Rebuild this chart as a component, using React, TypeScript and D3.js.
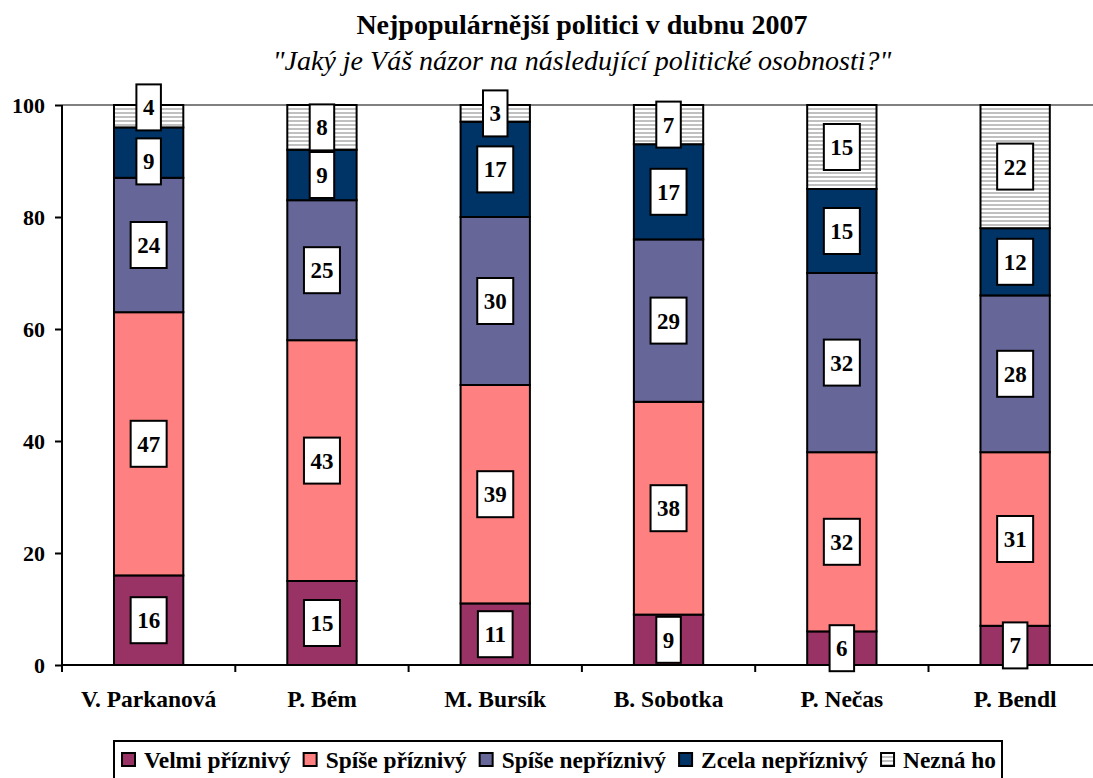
import React, { useEffect, useRef } from "react";
import * as d3 from "d3";

const categories = ["V. Parkanová", "P. Bém", "M. Bursík", "B. Sobotka", "P. Nečas", "P. Bendl"];
const seriesNames = ["Velmi příznivý", "Spíše příznivý", "Spíše nepříznivý", "Zcela nepříznivý", "Nezná ho"];
const velmiPriznivy = [16, 15, 11, 9, 6, 7];
const spisePriznivy = [47, 43, 39, 38, 32, 31];
const spiseNepriznivy = [24, 25, 30, 29, 32, 28];
const zcelaNepriznivy = [9, 9, 17, 17, 15, 12];
const neznaHo = [4, 8, 3, 7, 15, 22];
const yTicks = [0, 20, 40, 60, 80, 100];

const colors = ["#993366", "#FF8080", "#666699", "#003366", "url(#stripes)"];
const FONT = "'Times New Roman', 'Liberation Serif', serif";

// set font as separate attributes
const font = (sel: any, size: number, weight = "bold", style = "normal") =>
  sel
    .attr("font-family", FONT)
    .attr("font-size", size)
    .attr("font-weight", weight)
    .attr("font-style", style)
    .attr("fill", "black");

const App = () => {
  const ref = useRef<SVGSVGElement>(null);

  useEffect(() => {
    const width = 1093;
    const height = 778;
    const svg = d3.select(ref.current).attr("width", width).attr("height", height);
    svg.selectAll("*").remove();

    // stripes for "Nezná ho"
    const pat = svg
      .append("defs")
      .append("pattern")
      .attr("id", "stripes")
      .attr("patternUnits", "userSpaceOnUse")
      .attr("width", 8)
      .attr("height", 4);
    pat.append("rect").attr("width", 8).attr("height", 4).attr("fill", "white");
    pat.append("rect").attr("width", 8).attr("height", 2).attr("fill", "#c0c0c0");

    const x0 = 62;
    const x = d3
      .scaleBand()
      .domain(categories)
      .range([x0, x0 + 6 * 173.3])
      .paddingInner(0.6)
      .paddingOuter(0.3);
    const y = d3.scaleLinear().domain([0, 100]).range([665, 105]);

    const rows = categories.map((c, i) => ({
      cat: c,
      s0: velmiPriznivy[i],
      s1: spisePriznivy[i],
      s2: spiseNepriznivy[i],
      s3: zcelaNepriznivy[i],
      s4: neznaHo[i],
    }));
    const keys = ["s0", "s1", "s2", "s3", "s4"];
    const stacked = d3.stack<any>().keys(keys)(rows);

    // title
    font(svg.append("text"), 28)
      .attr("x", 582)
      .attr("y", 34)
      .attr("text-anchor", "middle")
      .text("Nejpopulárnější politici v dubnu 2007");
    font(svg.append("text"), 28, "normal", "italic")
      .attr("x", 582)
      .attr("y", 70)
      .attr("text-anchor", "middle")
      .text('"Jaký je Váš názor na následující politické osobnosti?"');

    // top gridline
    svg
      .append("line")
      .attr("x1", x0)
      .attr("x2", width)
      .attr("y1", y(100))
      .attr("y2", y(100))
      .attr("stroke", "#808080")
      .attr("stroke-width", 2);

    // bars
    stacked.forEach((layer, li) => {
      svg
        .append("g")
        .selectAll("rect")
        .data(layer)
        .join("rect")
        .attr("x", (d: any) => x(d.data.cat)!)
        .attr("width", x.bandwidth())
        .attr("y", (d) => y(d[1]))
        .attr("height", (d) => y(d[0]) - y(d[1]))
        .attr("fill", colors[li])
        .attr("stroke", "black")
        .attr("stroke-width", 2);
    });

    // axes
    const yAxis = svg
      .append("g")
      .attr("transform", `translate(${x0},0)`)
      .call(d3.axisLeft(y).tickValues(yTicks).tickSize(7).tickPadding(10));
    yAxis.attr("font-family", null).attr("font-size", null);
    yAxis.select(".domain").attr("stroke-width", 2).attr("d", `M0,${y(0)}V${y(100)}`);
    yAxis.selectAll(".tick line").attr("stroke-width", 2);
    font(yAxis.selectAll("text"), 22).attr("dy", "0.34em");

    const bounds = d3.range(categories.length + 1).map((i) => x0 + i * x.step());
    svg
      .append("line")
      .attr("x1", x0)
      .attr("x2", width)
      .attr("y1", y(0))
      .attr("y2", y(0))
      .attr("stroke", "black")
      .attr("stroke-width", 2);
    svg
      .append("g")
      .selectAll("line")
      .data(bounds)
      .join("line")
      .attr("x1", (d) => d)
      .attr("x2", (d) => d)
      .attr("y1", y(0))
      .attr("y2", y(0) + 7)
      .attr("stroke", "black")
      .attr("stroke-width", 2);
    font(
      svg.append("g").selectAll("text").data(categories).join("text"),
      23.5
    )
      .attr("x", (d: string) => x(d)! + x.bandwidth() / 2)
      .attr("y", 707)
      .attr("text-anchor", "middle")
      .text((d: string) => d);

    // data labels with simple overlap push
    const boxH = 46;
    categories.forEach((c, ci) => {
      const labels = stacked.map((layer) => {
        const d = layer[ci];
        return { v: d[1] - d[0], cy: y((d[0] + d[1]) / 2) };
      });
      for (let i = 1; i < labels.length; i++) {
        const a = labels[i - 1];
        const b = labels[i];
        if (a.cy - b.cy < boxH) {
          const mid = (a.cy + b.cy) / 2;
          a.cy = mid + 27;
          b.cy = mid - 27;
        }
      }
      const cx = x(c)! + x.bandwidth() / 2;
      labels.forEach((l) => {
        const g = svg.append("g");
        const t = font(g.append("text"), 23)
          .attr("x", cx)
          .attr("y", l.cy + 8)
          .attr("text-anchor", "middle")
          .text(l.v);
        const w = (t.node() as SVGTextElement).getComputedTextLength() + 13;
        g.insert("rect", "text")
          .attr("x", cx - w / 2)
          .attr("y", l.cy - boxH / 2)
          .attr("width", w)
          .attr("height", boxH)
          .attr("fill", "white")
          .attr("stroke", "black")
          .attr("stroke-width", 2);
      });
    });

    // legend
    const leg = svg.append("g");
    leg
      .append("rect")
      .attr("x", 114)
      .attr("y", 741)
      .attr("width", 1002 - 114)
      .attr("height", 50)
      .attr("fill", "white")
      .attr("stroke", "black")
      .attr("stroke-width", 2);
    let lx = 122;
    seriesNames.forEach((name, i) => {
      leg
        .append("rect")
        .attr("x", lx)
        .attr("y", 753)
        .attr("width", 13)
        .attr("height", 13)
        .attr("fill", colors[i])
        .attr("stroke", "black")
        .attr("stroke-width", 2);
      const t = font(leg.append("text"), 23.4)
        .attr("x", lx + 22)
        .attr("y", 768)
        .text(name);
      lx += 22 + (t.node() as SVGTextElement).getComputedTextLength() + 13;
    });
  }, []);

  return <svg ref={ref} style={{ position: "absolute", left: 0, top: 0 }}></svg>;
};

export default App;
